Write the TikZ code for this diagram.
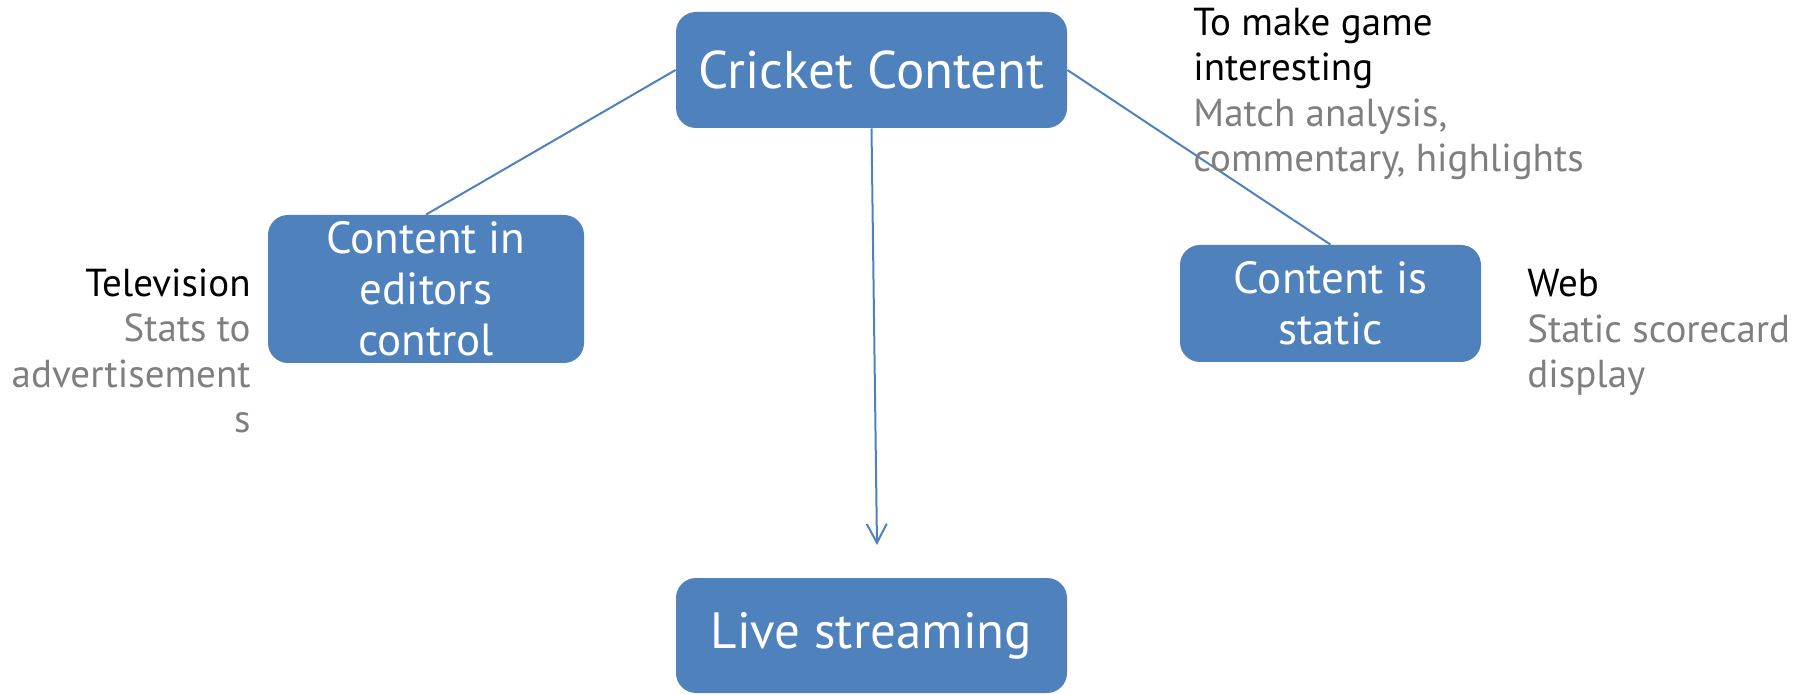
\documentclass[tikz,border=0pt]{standalone}
\usepackage{fontspec}
\setmainfont{PT Sans}
\usetikzlibrary{arrows.meta}
\definecolor{boxblue}{HTML}{4F81BD}
\definecolor{notegray}{HTML}{7F7F7F}

\tikzset{
  topic/.style={fill=boxblue, rounded corners=10pt, text=white, align=center, inner sep=0pt},
  bigtopic/.style={topic, font=\fontsize{25.5}{30}\selectfont, minimum width=195.5pt, minimum height=58pt},
  smalltopic/.style={topic, font=\fontsize{22.5}{25.5}\selectfont},
  note/.style={inner sep=0pt, font=\fontsize{19.5}{22.8}\selectfont},
  link/.style={draw=boxblue, line width=1pt},
}

\begin{document}
\begin{tikzpicture}[x=0.5pt,y=-0.5pt]
\useasboundingbox (0,0) rectangle (1812,695);

\node[bigtopic, font=\fontsize{26.5}{30}\selectfont] (cricket) at (871.5,70) {Cricket Content};
\node[smalltopic, minimum width=158pt, minimum height=74pt] (editors) at (426,289) {Content in\\editors\\control};
\node[smalltopic, minimum width=150.5pt, minimum height=58.5pt] (static) at (1330.5,303.5) {Content is\\static};
\node[bigtopic, minimum height=57.5pt] (live) at (871.5,635.5) {Live streaming};
\coordinate (tip) at (877,545);

\draw[link] (cricket.west) -- (editors.north);
\draw[link] (cricket.east) -- (static.north);
\draw[link, -{Straight Barb[length=9.5pt,width=10pt]}] (cricket.south) -- (tip);

\node[note, anchor=base east, align=right] (tv) at (251,433)
  {Television\\\textcolor{notegray}{Stats to}\\\textcolor{notegray}{advertisement}\\\textcolor{notegray}{s}};
\node[note, anchor=base west, align=left] (game) at (1193,172)
  {To make game\\interesting\\\textcolor{notegray}{Match analysis,}\\\textcolor{notegray}{commentary, highlights}};
\node[note, anchor=base west, align=left] (web) at (1527,388)
  {Web\\\textcolor{notegray}{Static scorecard}\\\textcolor{notegray}{display}};

\end{tikzpicture}
\end{document}
